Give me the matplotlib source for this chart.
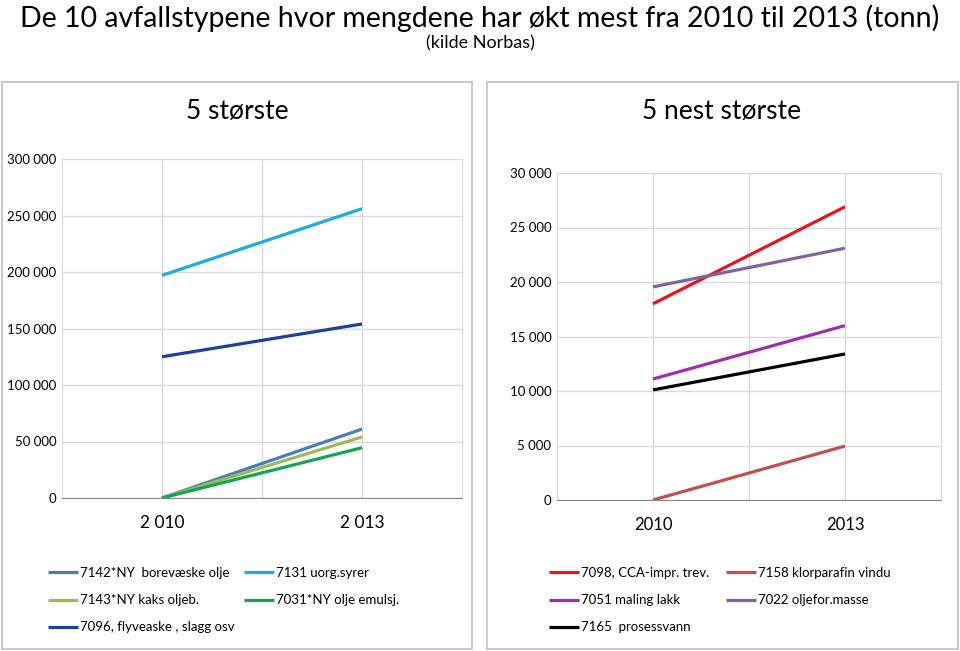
import matplotlib
matplotlib.use("Agg")
import matplotlib.pyplot as plt
from matplotlib.patches import Rectangle
from matplotlib.ticker import FuncFormatter, MultipleLocator

plt.rcParams['font.family'] = ['Lato', 'DejaVu Sans']

# data
years = ['2010', '2013']

big_names = ['7142*NY  borevæske olje', '7131 uorg.syrer', '7143*NY kaks oljeb.',
             '7031*NY olje emulsj.', '7096, flyveaske , slagg osv']
big_values = [[0, 61000], [197000, 256000], [0, 54000], [0, 44500], [125000, 154000]]
big_colors = ['#4A7EBB', '#1CADE4', '#9BBB59', '#13A650', '#1F3F9E']

next_names = ['7098, CCA-impr. trev.', '7158 klorparafin vindu', '7051 maling lakk',
              '7022 oljefor.masse', '7165  prosessvann']
next_values = [[18000, 26900], [0, 4950], [11100, 16000], [19550, 23100], [10100, 13400]]
next_colors = ['#E8161B', '#C0504D', '#9B2FAE', '#8064A2', '#000000']

fig = plt.figure(figsize=(9.6, 6.51), dpi=100)
W, H = 960, 651


def fx(px):
    return px / W


def fy(py):
    return 1 - py / H


# panel frames
for x0, x1 in [(2, 472), (487, 958)]:
    fig.patches.append(Rectangle((fx(x0), fy(649)), fx(x1 - x0), (649 - 82) / H,
                                 transform=fig.transFigure, fill=False,
                                 edgecolor='#BFBFBF', linewidth=1.2))

fig.text(0.5, fy(18), 'De 10 avfallstypene hvor mengdene har økt mest fra 2010 til 2013 (tonn)',
         ha='center', va='center', fontsize=20.5)
fig.text(0.5, fy(43), '(kilde Norbas)', ha='center', va='center', fontsize=13)


def thousands(v, _):
    return f'{int(v):,}'.replace(',', ' ')


def panel(rect, names, values, colors, ymax, step, xlabels, xfs, title, title_x,
          order, leg_anchor, colspace):
    ax = fig.add_axes(rect)
    x = list(range(len(years)))
    handles = []
    for name, vals, col in zip(names, values, colors):
        h, = ax.plot(x, vals, color=col, linewidth=2.3, label=name, solid_capstyle='butt')
        handles.append(h)
    ax.set_xlim(-0.5, 1.5)
    ax.set_ylim(0, ymax)
    ax.yaxis.set_major_locator(MultipleLocator(step))
    ax.yaxis.set_major_formatter(FuncFormatter(thousands))
    ax.set_xticks(x)
    ax.set_xticklabels(xlabels, fontsize=xfs)
    ax.set_xticks([0.5], minor=True)
    ax.grid(True, which='both', color='#D9D9D9', linewidth=1)
    ax.set_axisbelow(True)
    ax.tick_params(axis='both', which='both', length=0)
    ax.tick_params(axis='y', labelsize=9.5, pad=4)
    ax.tick_params(axis='x', pad=12)
    for s in ['left', 'top', 'right']:
        ax.spines[s].set_color('#D9D9D9')
    ax.spines['bottom'].set_color('#868686')
    fig.text(title_x, fy(112), title, ha='center', va='center', fontsize=19)
    ax.legend([handles[i] for i in order], [names[i] for i in order], ncol=2,
              loc='upper left', bbox_to_anchor=leg_anchor, bbox_transform=fig.transFigure,
              frameon=False, fontsize=9.5, handlelength=2.27, handletextpad=0.15,
              columnspacing=colspace, labelspacing=1.15, borderaxespad=0, borderpad=0)
    return ax


panel([fx(62), fy(498), fx(400), (498 - 159) / H], big_names, big_values, big_colors,
      300000, 50000, ['2 010', '2 013'], 12.5, '5 største', fx(237),
      [0, 2, 4, 1, 3], (fx(48), fy(567)), 0.75)

panel([fx(557), fy(500), fx(384), (500 - 173) / H], next_names, next_values, next_colors,
      30000, 5000, ['2010', '2013'], 12, '5 nest største', fx(722),
      [0, 2, 4, 1, 3], (fx(549), fy(567)), 1.3)

fig.savefig('out.png', dpi=100)
